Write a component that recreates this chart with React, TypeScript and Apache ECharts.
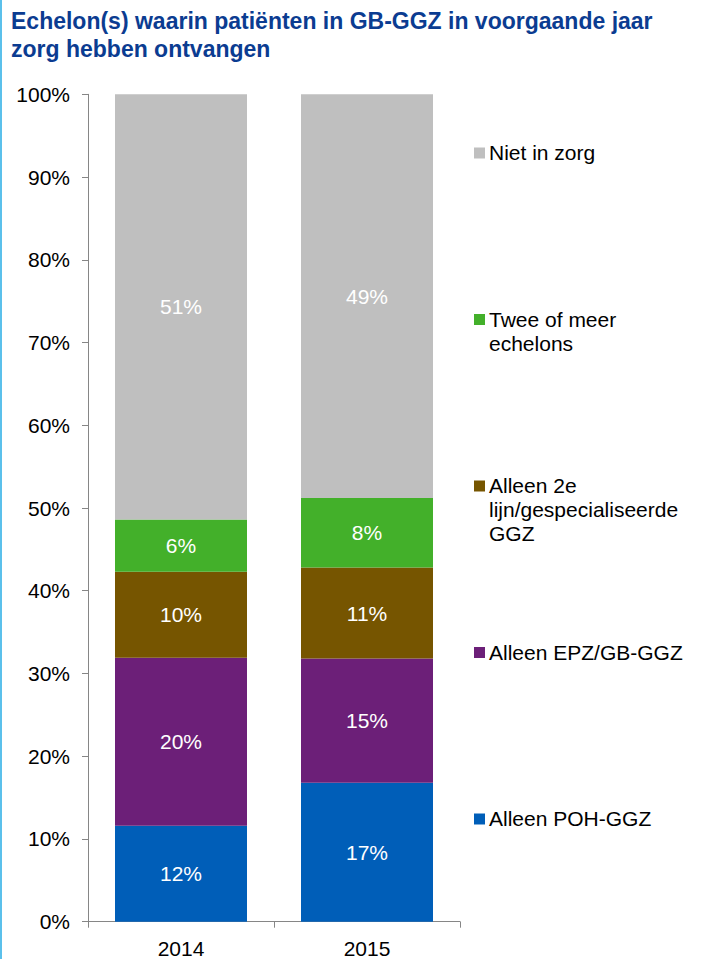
import React, { useEffect, useRef } from "react";
import * as echarts from "echarts";

const categories = ["2014", "2015"];
const seriesNames = [
  "Alleen POH-GGZ",
  "Alleen EPZ/GB-GGZ",
  "Alleen 2e lijn/gespecialiseerde GGZ",
  "Twee of meer echelons",
  "Niet in zorg",
];
const legendLabels = [
  "Alleen POH-GGZ",
  "Alleen EPZ/GB-GGZ",
  "Alleen 2e\nlijn/gespecialiseerde\nGGZ",
  "Twee of meer\nechelons",
  "Niet in zorg",
];
const seriesColors = ["#005EB8", "#6C1F78", "#765500", "#43B02A", "#BFBFBF"];
const pohValues = [11.6, 16.8];
const epzValues = [20.3, 15.0];
const tweedeLijnValues = [10.4, 11.0];
const meerValues = [6.3, 8.4];
const nietValues = [51.4, 48.8];
const seriesValues = [pohValues, epzValues, tweedeLijnValues, meerValues, nietValues];
const titleLines = [
  "Echelon(s) waarin patiënten in GB-GGZ in voorgaande jaar",
  "zorg hebben ontvangen",
];

const FONT = "'Liberation Sans', Arial, Helvetica, sans-serif";

export default function App() {
  const ref = useRef<HTMLDivElement>(null);
  useEffect(() => {
    if (!ref.current) return;
    const chart = echarts.init(ref.current, null, { renderer: "svg" });
    // legend item middles (top to bottom): Niet, Twee, 2e, EPZ, POH
    const legendMiddles = [818.5, 652, 485.5, 319, 152.5];
    const legendGraphics: any[] = [];
    seriesNames.forEach((_, i) => {
      const mid = legendMiddles[i];
      legendGraphics.push({
        type: "rect",
        shape: { x: 474, y: mid - 5, width: 11, height: 11 },
        style: { fill: seriesColors[i] },
      });
      legendGraphics.push({
        type: "text",
        x: 489,
        y: mid - 12,
        style: {
          text: legendLabels[i],
          font: `21px ${FONT}`,
          fill: "#000000",
          lineHeight: 24,
          verticalAlign: "top",
          align: "left",
        },
      });
    });
    chart.setOption({
      animation: false,
      textStyle: { fontFamily: FONT },
      grid: { left: 88, right: 243, top: 94.3, bottom: 37.3, containLabel: false },
      xAxis: {
        type: "category",
        data: categories,
        axisLine: { lineStyle: { color: "#868686", width: 1 } },
        axisTick: { show: true, length: 6, alignWithLabel: false, lineStyle: { color: "#868686" } },
        axisLabel: { color: "#000000", fontSize: 21, margin: 16, fontFamily: FONT },
      },
      yAxis: {
        type: "value",
        min: 0,
        max: 100,
        interval: 10,
        axisLine: { show: true, lineStyle: { color: "#868686", width: 1 } },
        axisTick: { show: true, length: 6, lineStyle: { color: "#868686" } },
        splitLine: { show: false },
        axisLabel: { color: "#000000", fontSize: 21, margin: 18, formatter: "{value}%", fontFamily: FONT },
      },
      series: seriesNames.map((name, i) => ({
        name,
        type: "bar",
        stack: "total",
        barWidth: 132,
        data: seriesValues[i],
        itemStyle: { color: seriesColors[i] },
        label: {
          show: true,
          position: "inside",
          color: "#FFFFFF",
          fontSize: 21,
          fontFamily: FONT,
          formatter: (p: any) => Math.round(p.value) + "%",
        },
      })),
      graphic: [
        {
          type: "rect",
          shape: { x: 0, y: 0, width: 2, height: 959 },
          style: { fill: "#5BC0EB" },
        },
        {
          type: "text",
          x: 11,
          y: 21.3,
          style: {
            text: titleLines[0],
            font: `bold 23px ${FONT}`,
            fill: "#0B3C91",
            verticalAlign: "middle",
            align: "left",
          },
        },
        {
          type: "text",
          x: 11,
          y: 48.7,
          style: {
            text: titleLines[1],
            font: `bold 23px ${FONT}`,
            fill: "#0B3C91",
            verticalAlign: "middle",
            align: "left",
          },
        },
        ...legendGraphics,
      ],
    });
    return () => chart.dispose();
  }, []);
  return (
    <div
      ref={ref}
      style={{ position: "absolute", left: 0, top: 0, width: 703, height: 959, background: "#ffffff" }}
    />
  );
}
